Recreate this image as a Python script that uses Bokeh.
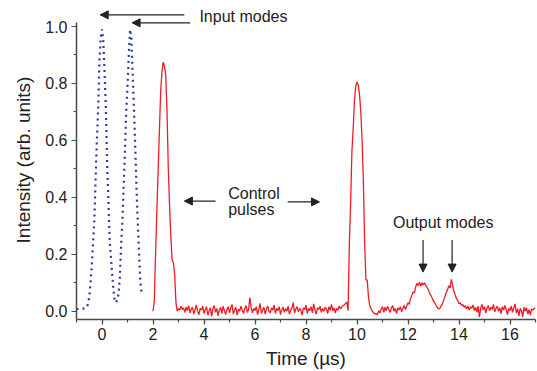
import numpy as np
from bokeh.plotting import figure
from bokeh.models import (Range1d, SingleIntervalTicker, PrintfTickFormatter,
                          Label, Arrow, NormalHead)
from bokeh.embed import file_html
from bokeh.resources import INLINE

# ---------------- data ----------------
# Input modes (blue dotted)
blue_t = [-1.0, -0.9, -0.8, -0.7, -0.6, -0.55, -0.5, -0.45, -0.4, -0.35,
          -0.3, -0.25, -0.2, -0.15, -0.1, -0.05, 0.0, 0.05, 0.1, 0.15,
          0.2, 0.25, 0.3, 0.35, 0.4, 0.45, 0.5, 0.55, 0.6, 0.65,
          0.7, 0.75, 0.8, 0.85, 0.9, 0.95, 1.0, 1.05, 1.1, 1.15,
          1.2, 1.25, 1.3, 1.35, 1.4, 1.45, 1.5, 1.55]
blue_y = [0.007, 0.008, 0.009, 0.010, 0.013, 0.025, 0.05, 0.10, 0.16, 0.24,
          0.32, 0.47, 0.60, 0.71, 0.88, 0.96, 0.99, 0.95, 0.84, 0.72,
          0.52, 0.39, 0.25, 0.19, 0.13, 0.075, 0.035, 0.03, 0.04, 0.06,
          0.12, 0.23, 0.32, 0.44, 0.56, 0.70, 0.79, 0.90, 0.99, 0.96,
          0.84, 0.72, 0.59, 0.44, 0.32, 0.21, 0.11, 0.065]

# Control pulses + output (red), sampled every 0.05 us from 2.00 to 17.00
red_t_start = 2.0
red_t_step = 0.05
red_pulse1 = [0.00, 0.035, 0.20, 0.35, 0.49, 0.63, 0.77, 0.84, 0.875, 0.86,
              0.83, 0.70, 0.50, 0.37, 0.26, 0.18, 0.17, 0.13, 0.03, 0.00]
red_noise1 = [0.010, 0.004, 0.018, 0.006, 0.012, -0.004, 0.015, 0.002, 0.020, -0.006,
              0.008, 0.014, -0.010, 0.006, 0.022, 0.000, -0.012, 0.010, 0.004, 0.018,
              -0.008, 0.006, 0.016, -0.014, 0.002, 0.012, -0.018, 0.008, 0.020, -0.004,
              0.010, -0.016, 0.004, 0.014, -0.008, 0.018, 0.002, -0.012, 0.006, 0.016,
              -0.006, 0.012, 0.024, -0.010, 0.004, 0.014, -0.014, 0.008, 0.000, 0.018,
              0.004, -0.008, 0.010, 0.020, -0.004, 0.006, 0.048, 0.012, -0.006, 0.010,
              0.002, 0.016, -0.012, 0.006, 0.028, -0.008, 0.004, 0.014, -0.010, 0.008,
              0.018, 0.000, -0.006, 0.012, 0.004, 0.022, -0.008, 0.010, 0.002, 0.016,
              -0.012, 0.006, 0.014, -0.004, 0.010, 0.000, 0.018, -0.010, 0.004, 0.012,
              0.030, -0.006, 0.008, 0.016, -0.002, 0.010, 0.004, -0.014, 0.012, 0.006,
              0.022, -0.008, 0.010, 0.002, 0.016, -0.006, 0.026, 0.004, -0.010, 0.012,
              0.006, 0.018, -0.004, 0.010, 0.000, 0.014, 0.008, -0.008, 0.016, 0.004,
              0.024, 0.002, 0.012, -0.006, 0.010, 0.004, 0.018, 0.008, 0.014, 0.020,
              0.022, 0.028, 0.032]
red_pulse2 = [0.002, 0.24, 0.38, 0.56, 0.64, 0.74, 0.79, 0.805, 0.795, 0.76,
              0.70, 0.60, 0.46, 0.24, 0.11, 0.11, 0.05, 0.02, 0.01]
red_noise2 = [0.000, -0.006, -0.010, -0.008, -0.012, 0.002, -0.006, 0.008, 0.016, -0.004,
              0.014, 0.002, 0.018, 0.006, -0.004, 0.012, 0.020, 0.000, 0.010, -0.008,
              0.012, 0.004, 0.016, -0.002, 0.010, 0.020, 0.006, 0.018]
red_output = [0.030, 0.024, 0.045, 0.055, 0.068, 0.064, 0.085, 0.098, 0.090, 0.102,
              0.088, 0.100, 0.092, 0.100, 0.090, 0.084, 0.075, 0.062, 0.056, 0.046,
              0.036, 0.030, 0.020, 0.014, 0.008, 0.010, 0.018, 0.026, 0.040, 0.052,
              0.066, 0.075, 0.090, 0.082, 0.112, 0.092, 0.070, 0.058, 0.044, 0.038,
              0.026, 0.030, 0.020]
red_noise3 = [0.024, 0.014, 0.020, 0.008, 0.018, 0.004, 0.016, 0.010, 0.022, 0.002,
              0.014, -0.004, 0.018, -0.020, 0.010, 0.024, 0.004, 0.016, -0.006, 0.012,
              0.020, 0.002, 0.014, 0.006, 0.024, -0.002, 0.010, 0.018, 0.000, 0.012,
              -0.008, 0.016, 0.004, 0.020, 0.006, -0.012, 0.010, 0.002, 0.018, -0.004,
              0.012, 0.026, -0.006, 0.008, -0.016, 0.010, 0.002, -0.020, 0.014, 0.000,
              0.012, -0.010, 0.006, -0.014, 0.008, 0.004, 0.010, 0.012]

red_y = red_pulse1 + red_noise1 + red_pulse2 + red_noise2 + red_output + red_noise3
red_t = [round(red_t_start + i * red_t_step, 2) for i in range(len(red_y))]

x_ticks_interval = 2
y_ticks_interval = 0.2

FONT = "Liberation Sans"
TXT = "#222222"

# ---------------- figure ----------------
p = figure(width=537, height=371, x_range=Range1d(-1, 17), y_range=Range1d(-0.029, 1.0914),
           output_backend="svg", toolbar_location=None,
           min_border_left=76, min_border_right=2, min_border_top=0, min_border_bottom=50)
p.outline_line_color = None
p.xgrid.visible = False
p.ygrid.visible = False
p.background_fill_color = "white"
p.border_fill_color = "white"

p.line(red_t, red_y, line_color="#ee1c25", line_width=1.3)
p.line(blue_t, blue_y, line_color="#2b3aa0", line_width=2.2, line_dash="2 4")

for ax in (p.xaxis[0], p.yaxis[0]):
    ax.axis_line_color = "#4a4a4a"
    ax.axis_line_width = 1.5
    ax.major_tick_line_color = "#4a4a4a"
    ax.minor_tick_line_color = "#4a4a4a"
    ax.major_tick_line_width = 1.2
    ax.minor_tick_line_width = 1.2
    ax.major_tick_in = 0
    ax.major_tick_out = 5
    ax.minor_tick_in = 0
    ax.minor_tick_out = 3
    ax.major_label_text_font = FONT
    ax.major_label_text_font_size = "16px"
    ax.major_label_text_color = TXT
    ax.axis_label_text_font = FONT
    ax.axis_label_text_font_size = "19px"
    ax.axis_label_text_font_style = "normal"
    ax.axis_label_text_color = TXT

p.xaxis.ticker = SingleIntervalTicker(interval=x_ticks_interval, num_minor_ticks=2)
p.yaxis.ticker = SingleIntervalTicker(interval=y_ticks_interval, num_minor_ticks=2)
p.yaxis.formatter = PrintfTickFormatter(format="%.1f")
p.yaxis.bounds = (-0.029, 1.015)
p.xaxis.axis_label = "Time (\u00b5s)"
p.yaxis.axis_label = "Intensity (arb. units)"
p.xaxis.major_label_standoff = 3
p.yaxis.major_label_standoff = 4
p.xaxis.axis_label_standoff = 5
p.yaxis.axis_label_standoff = 8

# ---------------- annotations ----------------
def label(x, y, text):
    p.add_layout(Label(x=x, y=y, text=text, text_font=FONT, text_font_size="16px",
                       text_color=TXT, text_baseline="alphabetic", text_align="left"))

def arrow(x0, y0, x1, y1):
    p.add_layout(Arrow(end=NormalHead(size=8, fill_color="#222222", line_color="#222222",
                                      line_width=1),
                       x_start=x0, y_start=y0, x_end=x1, y_end=y1,
                       line_color="#222222", line_width=1.2))

label(3.82, 1.034, "Input modes")
arrow(3.23, 1.041, -0.07, 1.041)
arrow(3.46, 1.013, 1.18, 1.013)

label(4.95, 0.414, "Control")
label(4.95, 0.357, "pulses")
arrow(4.45, 0.387, 3.23, 0.387)
arrow(7.28, 0.384, 8.53, 0.384)

label(11.41, 0.310, "Output modes")
arrow(12.59, 0.250, 12.59, 0.1375)
arrow(13.73, 0.250, 13.73, 0.1375)

open("out.html", "w").write(file_html(p, INLINE))
